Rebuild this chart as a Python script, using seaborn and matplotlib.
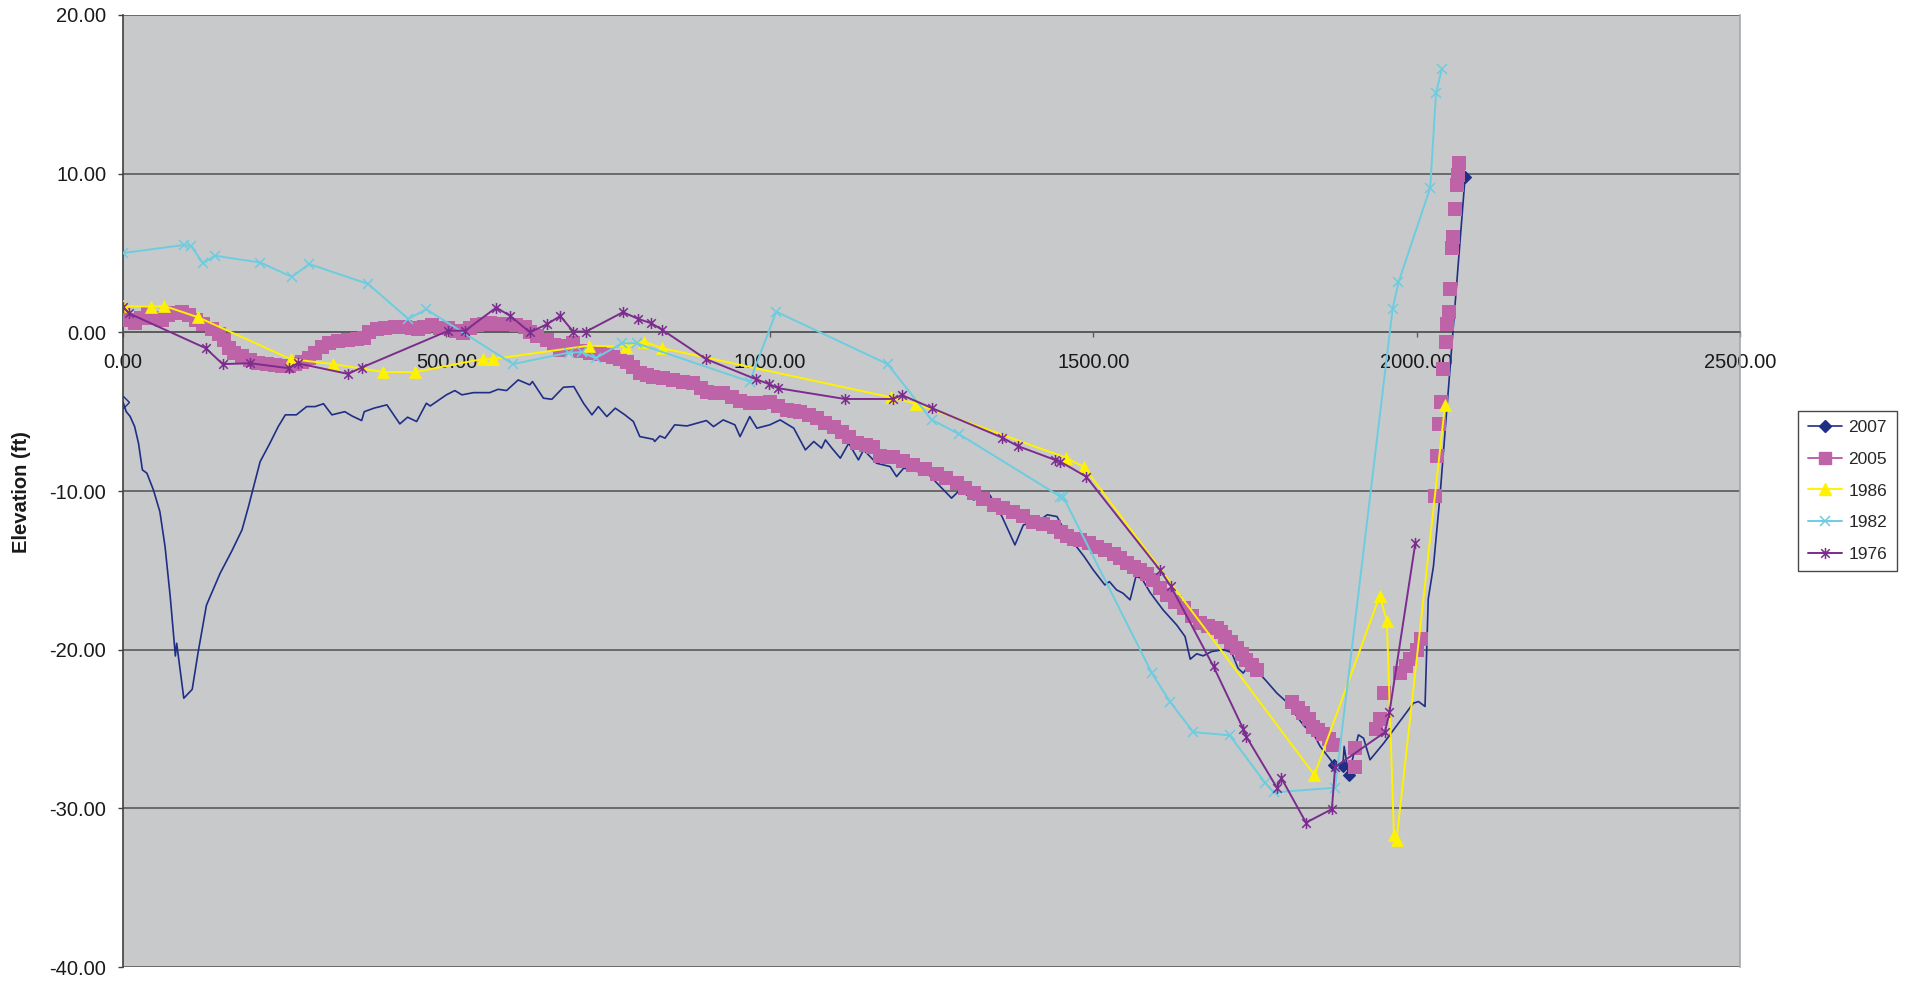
import numpy as np
import matplotlib
matplotlib.use("Agg")
import matplotlib.pyplot as plt
from matplotlib.lines import Line2D
from matplotlib.path import Path
import seaborn as sns

# ===== DATA (distance ft, elevation ft) =====================================

dist_2007 = [0, 5, 11, 18, 24, 30, 37, 47, 57, 65, 73, 79, 81, 83, 94, 107, 116, 129,
             150, 168, 184, 194, 202, 212, 227, 240, 251, 268, 284, 297, 310, 323,
             343, 354, 369, 373, 388, 408, 428, 440, 454, 469, 475, 500, 513, 524,
             542, 567, 580, 593, 611, 629, 633, 650, 663, 681, 697, 712, 725, 735,
             748, 761, 776, 789, 799, 820, 822, 830, 838, 853, 872, 887, 902, 913,
             928, 946, 954, 969, 980, 1000, 1016, 1037, 1055, 1068, 1080, 1086, 1096,
             1109, 1122, 1137, 1145, 1165, 1186, 1196, 1207, 1220, 1246, 1281, 1294,
             1315, 1340, 1359, 1379, 1392, 1418, 1429, 1444, 1455, 1470, 1486, 1500,
             1518, 1525, 1536, 1546, 1557, 1566, 1575, 1588, 1608, 1629, 1642, 1650,
             1660, 1670, 1683, 1701, 1714, 1724, 1732, 1742, 1766, 1784, 1804, 1815,
             1827, 1840, 1851, 1867, 1872, 1880, 1886, 1888, 1895, 1910, 1918, 1928,
             1949, 1995, 2003, 2013, 2018, 2026, 2036, 2075]
elev_2007 = [-4.4, -5.0, -5.3, -5.94, -7.0, -8.67, -8.88, -9.93, -11.3, -13.5, -16.65,
             -19.5, -20.4, -19.6, -23.06, -22.5, -20.2, -17.2, -15.2, -13.8, -12.45,
             -10.98, -9.72, -8.15, -7.0, -5.94, -5.2, -5.2, -4.68, -4.68, -4.5, -5.2,
             -5.0, -5.27, -5.56, -5.0, -4.78, -4.57, -5.77, -5.35, -5.62, -4.47, -4.64,
             -3.94, -3.67, -3.94, -3.8, -3.8, -3.59, -3.67, -3.0, -3.31, -3.1, -4.15,
             -4.22, -3.46, -3.42, -4.47, -5.2, -4.68, -5.31, -4.78, -5.2, -5.62, -6.57,
             -6.74, -6.88, -6.53, -6.67, -5.83, -5.9, -5.73, -5.56, -5.94, -5.52, -5.83,
             -6.57, -5.31, -6.04, -5.83, -5.52, -6.04, -7.41, -6.88, -7.3, -6.78, -7.3,
             -7.93, -6.99, -8.04, -7.41, -8.25, -8.46, -9.09, -8.56, -8.67, -8.98,
             -10.45, -9.93, -10.56, -10.24, -11.61, -13.4, -12.14, -11.82, -11.5,
             -11.61, -12.45, -13.29, -14.13, -14.97, -15.92, -15.71, -16.23, -16.44,
             -16.86, -15.39, -15.5, -16.4, -17.49, -18.44, -19.17, -20.6, -20.26,
             -20.39, -20.12, -20.0, -20.18, -21.17, -21.48, -20.85, -21.9, -22.74,
             -23.48, -24.22, -24.85, -25.26, -26.1, -26.94, -27.26, -27.47, -27.32,
             -26.1, -27.9, -25.37, -25.58, -26.94, -25.9, -23.37, -23.27, -23.58,
             -16.8, -14.76, -10.4, 9.8]
marked_2007 = [1872, 1886, 1895, 2075]

dist_2005 = [0, 8, 18, 28, 38, 48, 60, 70, 80, 91, 102, 113, 124, 137, 148, 156, 164,
             172, 184, 196, 209, 222, 235, 246, 256, 266, 276, 287, 297, 307, 318, 333,
             348, 362, 372, 380, 392, 405, 420, 436, 447, 456, 466, 477, 490, 503, 515,
             526, 536, 547, 558, 568, 580, 593, 607, 622, 629, 640, 655, 666, 676, 686,
             696, 707, 722, 737, 748, 758, 769, 779, 789, 799, 810, 820, 835, 851, 866,
             882, 893, 903, 915, 928, 941, 954, 970, 985, 1000, 1013, 1026, 1037, 1047,
             1060, 1073, 1086, 1099, 1111, 1123, 1135, 1148, 1160, 1171, 1181, 1191,
             1206, 1222, 1240, 1258, 1273, 1289, 1302, 1315, 1330, 1346, 1361, 1376,
             1392, 1407, 1423, 1439, 1450, 1460, 1470, 1480, 1493, 1506, 1519, 1532,
             1542, 1552, 1563, 1573, 1583, 1593, 1603, 1614, 1627, 1640, 1652, 1665,
             1678, 1691, 1698, 1704, 1713, 1722, 1730, 1737, 1745, 1753, 1808, 1817,
             1825, 1833, 1840, 1848, 1856, 1864, 1871, 1905, 1905, 1938, 1943, 1949,
             1975, 1983, 1990, 2000, 2007, 2029, 2032, 2035, 2038, 2041, 2045, 2047,
             2050, 2051, 2055, 2057, 2060, 2062, 2064, 2065]
elev_2005 = [1.1, 0.8, 0.6, 0.9, 1.15, 0.9, 0.75, 1.1, 1.25, 1.3, 1.1, 0.8, 0.55, 0.2,
             -0.1, -0.5, -1.0, -1.3, -1.5, -1.75, -1.95, -2.0, -2.05, -2.1, -2.15, -2.0,
             -1.85, -1.6, -1.3, -0.95, -0.7, -0.55, -0.5, -0.4, -0.35, 0.0, 0.2, 0.3,
             0.35, 0.36, 0.25, 0.2, 0.35, 0.45, 0.3, 0.3, 0.1, -0.05, 0.3, 0.45, 0.55,
             0.57, 0.55, 0.55, 0.45, 0.35, 0.0, -0.2, -0.48, -0.8, -1.1, -0.85, -0.7,
             -1.2, -1.3, -1.35, -1.45, -1.55, -1.7, -1.85, -2.2, -2.55, -2.7, -2.8,
             -2.9, -3.0, -3.1, -3.2, -3.5, -3.75, -3.8, -3.85, -4.1, -4.35, -4.45,
             -4.45, -4.4, -4.65, -4.9, -4.95, -5.0, -5.2, -5.4, -5.7, -5.95, -6.25,
             -6.6, -7.0, -7.1, -7.2, -7.8, -7.85, -7.85, -8.1, -8.35, -8.6, -8.9, -9.2,
             -9.5, -9.8, -10.15, -10.5, -10.9, -11.1, -11.3, -11.6, -11.95, -12.1,
             -12.25, -12.6, -12.85, -13.0, -13.1, -13.3, -13.5, -13.7, -13.95, -14.25,
             -14.55, -14.8, -15.0, -15.25, -15.6, -16.1, -16.55, -17.0, -17.4, -17.9,
             -18.35, -18.5, -18.65, -18.9, -19.2, -19.5, -19.9, -20.3, -20.65, -20.95,
             -21.3, -23.3, -23.65, -24.0, -24.4, -24.85, -25.05, -25.3, -25.65, -26.0,
             -26.2, -27.4, -25.0, -24.4, -22.7, -21.5, -21.0, -20.6, -20.0, -19.3,
             -10.3, -7.8, -5.8, -4.4, -2.3, -0.6, 0.5, 1.3, 2.7, 5.3, 6.0, 7.8, 9.3,
             9.9, 10.7]

dist_1986 = [0, 43, 64, 116, 259, 325, 402, 452, 556, 572, 720, 778, 805, 834, 1188,
             1226, 1458, 1486, 1842, 1943, 1954, 1965, 1969, 2044]
elev_1986 = [1.65, 1.62, 1.66, 0.95, -1.68, -2.0, -2.5, -2.5, -1.68, -1.68, -0.84,
             -0.9, -0.58, -1.0, -4.1, -4.5, -7.9, -8.5, -27.9, -16.6, -18.2, -31.7,
             -32.0, -4.55]

dist_1982 = [0, 94, 105, 124, 142, 212, 261, 288, 379, 441, 469, 603, 689, 709, 731,
             771, 794, 969, 1010, 1182, 1250, 1292, 1449, 1454, 1591, 1619, 1655, 1711,
             1766, 1779, 1874, 1963, 1972, 2021, 2030, 2039]
elev_1982 = [5.0, 5.5, 5.45, 4.35, 4.83, 4.4, 3.5, 4.3, 3.05, 0.85, 1.45, -2.0, -1.28,
             -1.25, -1.63, -0.69, -0.69, -3.1, 1.3, -2.0, -5.5, -6.4, -10.35, -10.4,
             -21.5, -23.3, -25.2, -25.4, -28.4, -29.0, -28.7, 1.5, 3.15, 9.1, 15.07,
             16.6]

dist_1976 = [0, 9, 128, 154, 197, 256, 270, 348, 369, 503, 529, 577, 599, 629, 655,
             676, 696, 716, 773, 797, 817, 834, 901, 979, 998, 1013, 1116, 1191, 1204,
             1251, 1359, 1383, 1441, 1449, 1489, 1603, 1620, 1686, 1732, 1737, 1784,
             1791, 1829, 1869, 1874, 1951, 1958, 1998]
elev_1976 = [1.62, 1.2, -1.0, -2.0, -1.95, -2.26, -1.95, -2.62, -2.22, 0.1, 0.1, 1.56,
             1.03, 0.0, 0.5, 1.03, 0.05, 0.05, 1.27, 0.84, 0.57, 0.15, -1.68, -2.96,
             -3.25, -3.52, -4.2, -4.2, -3.95, -4.78, -6.63, -7.16, -8.04, -8.15, -9.09,
             -14.97, -16.0, -21.06, -25.0, -25.5, -28.7, -28.1, -30.9, -30.05, -27.4,
             -25.2, -23.96, -13.3]

years = ['2007', '2005', '1986', '1982', '1976']
x_ticks = [0, 500, 1000, 1500, 2000, 2500]
y_ticks = [20, 10, 0, -10, -20, -30, -40]

# ===== STYLE =================================================================

C_2007 = '#1F2F86'
C_2005 = '#BF63A8'
C_1986 = '#FFF200'
C_1982 = '#6CCDE0'
C_1976 = '#7B2C8E'
BG     = '#C8C9CB'
GRID   = '#5A5A5A'

sns.set_style("white")
plt.rcParams['font.family'] = ['Liberation Sans', 'DejaVu Sans']

# asterisk marker like Excel's "star": an X with a vertical bar
STAR = Path([(-1, -1), (1, 1), (-1, 1), (1, -1), (0, -1.3), (0, 1.3)],
            [Path.MOVETO, Path.LINETO, Path.MOVETO, Path.LINETO, Path.MOVETO, Path.LINETO])

W, H = 1915, 983
fig = plt.figure(figsize=(W / 100, H / 100), dpi=100)
ax = fig.add_axes([123 / W, 1 - 967 / H, (1740 - 123) / W, (967 - 15) / H])
ax.set_facecolor(BG)

# ===== SERIES ================================================================

idx_2007 = [dist_2007.index(d) for d in marked_2007]
sns.lineplot(x=dist_2007, y=elev_2007, sort=False, estimator=None, ax=ax,
             color=C_2007, lw=1.2, marker='D', ms=6, markevery=idx_2007,
             markeredgecolor=C_2007, markeredgewidth=0.8, zorder=3)
ax.plot(dist_2007[:1], elev_2007[:1], ls='none', marker='D', ms=6,
        mfc='none', mec=C_2007, mew=1.0, zorder=3)

sns.scatterplot(x=dist_2005, y=elev_2005, ax=ax, marker='s', s=105,
                color=C_2005, linewidth=0, zorder=4)

sns.lineplot(x=dist_1986, y=elev_1986, sort=False, estimator=None, ax=ax,
             color=C_1986, lw=1.4, marker='^', ms=8,
             markeredgecolor=C_1986, markeredgewidth=0.5, zorder=5)

sns.lineplot(x=dist_1982, y=elev_1982, sort=False, estimator=None, ax=ax,
             color=C_1982, lw=1.4, marker='x', ms=7,
             markeredgecolor=C_1982, markeredgewidth=1.1, zorder=6)

sns.lineplot(x=dist_1976, y=elev_1976, sort=False, estimator=None, ax=ax,
             color=C_1976, lw=1.4, marker=STAR, ms=8,
             markeredgecolor=C_1976, markeredgewidth=1.1, zorder=7)

# ===== AXES ==================================================================

ax.set_xlim(0, 2500)
ax.set_ylim(-40, 20)
ax.set_xticks(x_ticks)
ax.set_yticks(y_ticks)
ax.set_xticklabels([f'{v:.2f}' for v in x_ticks])
ax.set_yticklabels([f'{v:.2f}' for v in y_ticks])
ax.set_xlabel('')
ax.set_ylabel('')

ax.grid(axis='y', color=GRID, lw=1.2)
ax.grid(axis='x', visible=False)
ax.set_axisbelow(True)

ax.spines['bottom'].set_position(('data', 0))
ax.spines['bottom'].set_color(GRID)
ax.spines['bottom'].set_linewidth(1.2)
ax.spines['left'].set_color('#404040')
ax.spines['left'].set_linewidth(1.2)
ax.spines['top'].set_visible(False)
ax.spines['right'].set_color('#A8A8A8')
ax.spines['right'].set_linewidth(1.2)

ax.tick_params(axis='y', direction='out', length=3.6, width=1.0, color='#404040',
               pad=8.5, labelsize=14.5, labelcolor='#1A1A1A', left=True)
ax.tick_params(axis='x', direction='out', length=3.6, width=1.0, color=GRID,
               pad=11.5, labelsize=14.5, labelcolor='#1A1A1A', bottom=True)

fig.text(22 / W, 1 - 492 / H, 'Elevation (ft)', rotation=90, ha='center',
         va='center', fontsize=14.5, fontweight='bold', color='#1A1A1A')

# ===== LEGEND ================================================================

handles = [
    Line2D([], [], color=C_2007, lw=1.2, marker='D', ms=6, mec=C_2007),
    Line2D([], [], color=C_2005, lw=1.4, marker='s', ms=8, mec=C_2005),
    Line2D([], [], color=C_1986, lw=1.4, marker='^', ms=8, mec=C_1986),
    Line2D([], [], color=C_1982, lw=1.4, marker='x', ms=7, mec=C_1982, mew=1.1),
    Line2D([], [], color=C_1976, lw=1.4, marker=STAR, ms=8, mec=C_1976, mew=1.1),
]
leg = fig.legend(handles, years, loc='center left',
                 bbox_to_anchor=(1798 / W, 1 - 491 / H), fontsize=12.5,
                 frameon=True, fancybox=False, edgecolor='#1A1A1A',
                 handlelength=2.0, handletextpad=0.35, labelspacing=0.95,
                 borderpad=0.55, borderaxespad=0)
leg.get_frame().set_linewidth(1.0)

fig.savefig('out.png', dpi=100)
